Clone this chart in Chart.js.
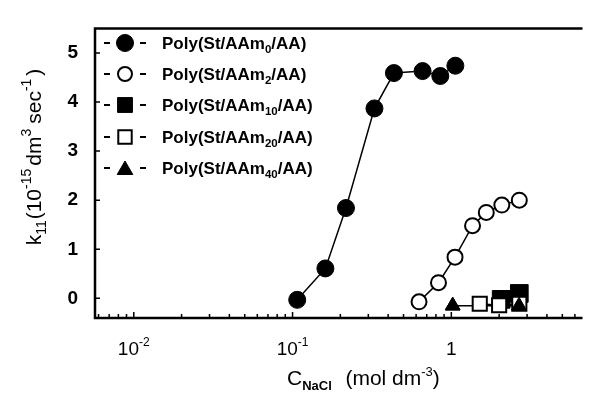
<!DOCTYPE html>
<html>
<head>
<meta charset="utf-8">
<script src="https://cdn.jsdelivr.net/npm/chart.js@4.4.0/dist/chart.umd.min.js"></script>
<style>
  html, body { margin: 0; padding: 0; background: #fff; }
  #wrap { width: 596px; height: 395px; }
</style>
</head>
<body>
<div id="wrap"><canvas id="k11Chart" width="596" height="395"></canvas></div>
<script>
// AAm content (subscript in the legend)
const aamLabels = ['0', '2', '10', '20', '40'];

// C_NaCl (mol dm-3) and k11 (10^-15 dm3 sec-1)
const aam0X = [0.107, 0.161, 0.217, 0.328, 0.435, 0.659, 0.852, 1.06];
const aam0Y = [-0.03, 0.61, 1.84, 3.87, 4.59, 4.63, 4.53, 4.74];
const aam2X = [0.626, 0.83, 1.055, 1.36, 1.66, 2.08, 2.68];
const aam2Y = [-0.07, 0.32, 0.84, 1.48, 1.75, 1.90, 2.00];
const aam10X = [2.06, 2.68];
const aam10Y = [-0.02, 0.10];
const aam20X = [1.51, 2.0, 2.68];
const aam20Y = [-0.11, -0.14, -0.11];
const aam40X = [1.02, 2.67];
const aam40Y = [-0.15, -0.15];

const yTickValues = [0, 1, 2, 3, 4, 5];
const xMajorValues = [0.01, 0.1, 1];
const xMajorLabels = [['10', '-2'], ['10', '-1'], ['1', '']];

const FONT = '"Liberation Sans", Arial, Helvetica, sans-serif';

function pts(xs, ys) {
    return xs.map((x, i) => ({ x: x, y: ys[i] }));
}

// draw a run of text pieces (normal / sub / sup) starting at x
function richWidth(ctx, parts) {
    let w = 0;
    parts.forEach(p => {
        ctx.font = (p.weight || '') + ' ' + p.size + 'px ' + FONT;
        w += ctx.measureText(p.t).width + (p.gap || 0);
    });
    return w;
}
function drawRich(ctx, parts, x, y) {
    parts.forEach(p => {
        ctx.font = (p.weight || '') + ' ' + p.size + 'px ' + FONT;
        ctx.fillText(p.t, x, y + (p.dy || 0));
        x += ctx.measureText(p.t).width + (p.gap || 0);
    });
}

const legendStyles = [
    { pointStyle: 'circle', radius: 8.5, fill: '#000', bw: 1 },
    { pointStyle: 'circle', radius: 7, fill: '#fff', bw: 2 },
    { pointStyle: 'rect', radius: 10.5, fill: '#000', bw: 1 },
    { pointStyle: 'rect', radius: 9.5, fill: '#fff', bw: 2 },
    { pointStyle: 'triangle', radius: 9, fill: '#000', bw: 1 }
];

const decorations = {
    id: 'decorations',
    afterDatasetsDraw(chart) {
        // triangles sit on top of the squares, their line underneath
        const ctx = chart.ctx;
        chart.getDatasetMeta(4).data.forEach(el => el.draw(ctx, chart.chartArea));
    },
    afterDraw(chart) {
        const { ctx, chartArea: a, scales } = chart;
        const xs = scales.x, ys = scales.y;
        ctx.save();
        ctx.strokeStyle = '#000';
        ctx.fillStyle = '#000';

        // frame: top, left, bottom
        ctx.lineWidth = 2.5;
        ctx.beginPath();
        ctx.moveTo(a.right, a.top);
        ctx.lineTo(a.left, a.top);
        ctx.lineTo(a.left, a.bottom);
        ctx.lineTo(a.right, a.bottom);
        ctx.stroke();

        // inward tick marks
        ctx.lineWidth = 1.5;
        ctx.beginPath();
        yTickValues.forEach(v => {
            const py = ys.getPixelForValue(v);
            ctx.moveTo(a.left, py);
            ctx.lineTo(a.left + 5, py);
        });
        for (let d = -3; d <= 1; d++) {
            for (let m = 1; m <= 9; m++) {
                const v = m * Math.pow(10, d);
                if (v < xs.min || v > xs.max) continue;
                const px = xs.getPixelForValue(v);
                ctx.moveTo(px, a.bottom);
                ctx.lineTo(px, a.bottom - (m === 1 ? 6 : 4));
            }
        }
        ctx.stroke();

        // x tick labels with superscripts
        ctx.textBaseline = 'alphabetic';
        ctx.textAlign = 'left';
        xMajorValues.forEach((v, i) => {
            const px = xs.getPixelForValue(v);
            const parts = [{ t: xMajorLabels[i][0], size: 19 }];
            if (xMajorLabels[i][1]) parts.push({ t: xMajorLabels[i][1], size: 12, dy: -9 });
            const w = richWidth(ctx, parts);
            drawRich(ctx, parts, px - w / 2, 355);
        });

        // x title
        const xTitle = [
            { t: 'C', size: 21 },
            { t: 'NaCl', size: 13, dy: 5, weight: 'bold', gap: 2 },
            { t: '  (mol dm', size: 21 },
            { t: '-3', size: 13, dy: -9 },
            { t: ')', size: 21 }
        ];
        drawRich(ctx, xTitle, 287, 385);

        // y title, rotated
        const yTitle = [
            { t: 'k', size: 21 },
            { t: '11', size: 14, dy: 5, gap: 1 },
            { t: '(10', size: 21 },
            { t: '-15', size: 14, dy: -10, gap: 3 },
            { t: 'dm', size: 21 },
            { t: '3', size: 14, dy: -10, gap: 5 },
            { t: 'sec', size: 21 },
            { t: '-1', size: 14, dy: -10, gap: 3 },
            { t: ')', size: 21 }
        ];
        ctx.save();
        ctx.translate(41, 157);
        ctx.rotate(-Math.PI / 2);
        const yw = richWidth(ctx, yTitle);
        drawRich(ctx, yTitle, -yw / 2, 0);
        ctx.restore();

        // legend inside the plot
        const rowY = [43, 74, 105, 137, 168];
        aamLabels.forEach((lab, i) => {
            const y = rowY[i];
            const st = legendStyles[i];
            ctx.lineWidth = 2;
            ctx.beginPath();
            ctx.moveTo(104, y); ctx.lineTo(110, y);
            ctx.moveTo(140, y); ctx.lineTo(146, y);
            ctx.stroke();
            ctx.fillStyle = st.fill;
            ctx.strokeStyle = '#000';
            ctx.lineWidth = st.bw;
            Chart.helpers.drawPoint(ctx, { pointStyle: st.pointStyle, radius: st.radius, borderWidth: st.bw, rotation: 0 }, 125, y + (st.pointStyle === 'triangle' ? 2 : 0));
            ctx.fillStyle = '#000';
            drawRich(ctx, [
                { t: 'Poly(St/AAm', size: 17, weight: 'bold' },
                { t: lab, size: 11.5, dy: 4, weight: 'bold' },
                { t: '/AA)', size: 17, weight: 'bold' }
            ], 162, y + 6);
        });
        ctx.restore();
    }
};

const ctx = document.getElementById('k11Chart').getContext('2d');
const k11Chart = new Chart(ctx, {
    type: 'scatter',
    data: {
        datasets: [
            {
                label: 'AAm0', data: pts(aam0X, aam0Y), showLine: true, order: 0,
                borderColor: '#000', borderWidth: 1.5,
                pointStyle: 'circle', pointRadius: 8.5, pointBackgroundColor: '#000',
                pointBorderColor: '#000', pointBorderWidth: 1
            },
            {
                label: 'AAm2', data: pts(aam2X, aam2Y), showLine: true, order: 1,
                borderColor: '#000', borderWidth: 1.5,
                pointStyle: 'circle', pointRadius: 7.5, pointBackgroundColor: '#fff',
                pointBorderColor: '#000', pointBorderWidth: 2
            },
            {
                label: 'AAm10', data: pts(aam10X, aam10Y), showLine: true, order: 3,
                borderColor: '#000', borderWidth: 1.5,
                pointStyle: 'rect', pointRadius: 12.5, pointBackgroundColor: '#000',
                pointBorderColor: '#000', pointBorderWidth: 1
            },
            {
                label: 'AAm20', data: pts(aam20X, aam20Y), showLine: true, order: 2,
                borderColor: '#000', borderWidth: 1.5,
                pointStyle: 'rect', pointRadius: 10, pointBackgroundColor: '#fff',
                pointBorderColor: '#000', pointBorderWidth: 2
            },
            {
                label: 'AAm40', data: pts(aam40X, aam40Y), showLine: true, order: 4,
                borderColor: '#000', borderWidth: 1.5,
                pointStyle: 'triangle', pointRadius: 8.5, pointBackgroundColor: '#000',
                pointBorderColor: '#000', pointBorderWidth: 1
            }
        ]
    },
    options: {
        responsive: false,
        animation: false,
        devicePixelRatio: 1,
        layout: { padding: { top: 13, right: 0, left: 0, bottom: 0 } },
        plugins: {
            legend: { display: false },
            tooltip: { enabled: false }
        },
        scales: {
            x: {
                type: 'logarithmic',
                min: 0.0057,
                max: 6.7,
                grid: { display: false, drawTicks: false },
                border: { display: false },
                ticks: { display: false },
                afterFit: s => { s.height = 77; }
            },
            y: {
                type: 'linear',
                min: -0.4,
                max: 5.5,
                afterBuildTicks: s => { s.ticks = yTickValues.map(v => ({ value: v })); },
                grid: { display: false, drawTicks: false },
                border: { display: false },
                ticks: {
                    padding: 17,
                    color: '#000',
                    font: { family: FONT, size: 19, weight: 'bold' }
                },
                afterFit: s => { s.width = 95; }
            }
        }
    },
    plugins: [decorations]
});
</script>
</body>
</html>
